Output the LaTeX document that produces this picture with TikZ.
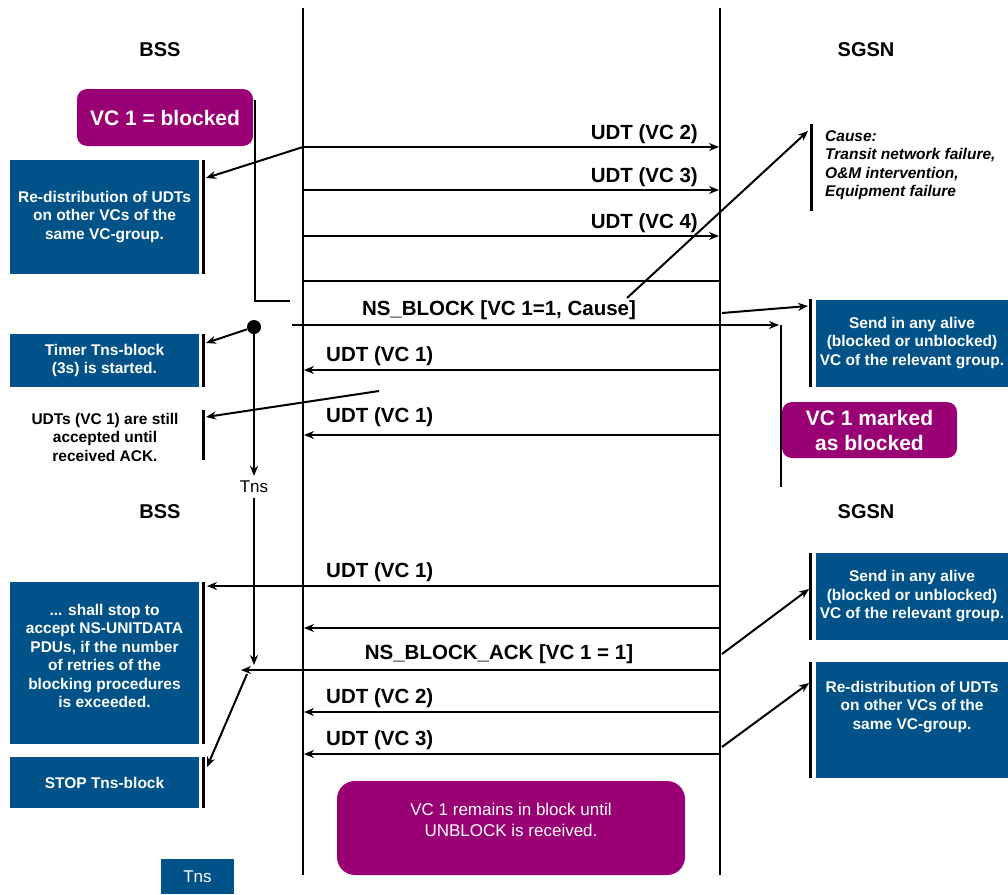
\documentclass[tikz,border=0pt]{standalone}
\usepackage{fontspec}
\setmainfont{Liberation Sans}
\usepackage{tikz}
\usetikzlibrary{arrows.meta, positioning, calc}
\usepackage{xcolor}
\definecolor{nsblue}{RGB}{0,82,136}
\definecolor{nspurple}{RGB}{153,0,115}
\tikzstyle{lifeline} = [line width=2.4pt]
\tikzstyle{plain} = [line width=2pt]
\tikzstyle{bar} = [line width=3pt]
\tikzstyle{arrow} = [line width=2pt,-{Stealth[length=10pt,width=8pt]}]
\tikzstyle{boxtext} = [text=white, align=center, inner sep=0pt, font=\fontsize{15.5}{18.5}\selectfont\bfseries]
\tikzstyle{bluebox} = [rectangle, fill=nsblue, boxtext]
\tikzstyle{purplebox} = [rectangle, rounded corners=10pt, fill=nspurple, text=white, align=center, inner sep=0pt, font=\fontsize{21}{25}\selectfont\bfseries]
\tikzstyle{msglabel} = [inner sep=0pt, font=\fontsize{20.5}{24}\selectfont\bfseries]
\tikzstyle{entity} = [inner sep=0pt, font=\fontsize{20}{24}\selectfont\bfseries]

\begin{document}
\begin{tikzpicture}[x=1pt, y=-1pt]
  \useasboundingbox (0,0) rectangle (1008,894);

  % lifelines
  \coordinate (bssTop) at (303,8);
  \coordinate (bssEnd) at (303,875);
  \coordinate (sgsnTop) at (720,8);
  \coordinate (sgsnEnd) at (720,875);
  \draw[lifeline] (bssTop) -- (bssEnd);
  \draw[lifeline] (sgsnTop) -- (sgsnEnd);

  \node[entity] (bssA) at (160,50) {BSS};
  \node[entity] (sgsnA) at (866,50) {SGSN};
  \node[entity] (bssB) at (160,512) {BSS};
  \node[entity] (sgsnB) at (866,512) {SGSN};

  % boxes on the BSS side
  \node[purplebox, minimum width=176pt, minimum height=57pt] (blocked) at (165,117.5) {VC 1 = blocked};
  \node[bluebox, minimum width=189pt, minimum height=114pt] (redistA) at (104.5,217) {Re-distribution of UDTs\\on other VCs of the\\same VC-group.};
  \node[bluebox, minimum width=189pt, minimum height=53pt] (timer) at (104.5,360.5) {Timer Tns-block\\(3s) is started.};
  \node[inner sep=0pt, align=center, font=\fontsize{15.5}{18.5}\selectfont\bfseries] (stillTxt) at (105,437) {UDTs (VC 1) are still\\accepted until\\received ACK.};
  \node[bluebox, minimum width=189pt, minimum height=162pt] (stopAcc) at (104.5,663) {};
  \node[boxtext] (stopAccTxt) at (104.5,656) {... shall stop to\\accept NS-UNITDATA\\PDUs, if the number\\of retries of the\\blocking procedures\\is exceeded.};
  \node[bluebox, minimum width=189pt, minimum height=51pt] (stopTns) at (104.5,782.5) {STOP Tns-block};
  \node[bluebox, minimum width=73pt, minimum height=35pt, font=\fontsize{17}{20}\selectfont] (tnsBox) at (197.5,876.5) {Tns};

  % boxes on the SGSN side
  \node[inner sep=0pt, anchor=west, align=left, font=\fontsize{15.5}{18.5}\selectfont\bfseries\itshape] (causeTxt) at (825,165) {Cause:\\Transit network failure,\\O\&M intervention,\\Equipment failure};
  \node[bluebox, minimum width=192pt, minimum height=87pt] (sendA) at (912,343) {Send in any alive\\(blocked or unblocked)\\VC of the relevant group.};
  \node[purplebox, minimum width=175pt, minimum height=56pt] (marked) at (869.5,430) {VC 1 marked\\as blocked};
  \node[bluebox, minimum width=192pt, minimum height=87pt] (sendB) at (912,596.5) {Send in any alive\\(blocked or unblocked)\\VC of the relevant group.};
  \node[bluebox, minimum width=192pt, minimum height=116pt] (redistB) at (912,720) {};
  \node[boxtext] (redistBTxt) at (912,707) {Re-distribution of UDTs\\on other VCs of the\\same VC-group.};

  \node[purplebox, rounded corners=18pt, minimum width=348pt, minimum height=94pt] (remains) at (511,828) {};
  \node[text=white, align=center, inner sep=0pt, font=\fontsize{17}{21}\selectfont] (remainsTxt) at (511,820) {VC 1 remains in block until\\UNBLOCK is received.};

  % bars
  \draw[bar] ([xshift=4.5pt]redistA.north east) -- ([xshift=4.5pt]redistA.south east);
  \draw[bar] ([xshift=4.5pt]timer.north east) -- ([xshift=4.5pt]timer.south east);
  \coordinate (stillBarTop) at (203.5,410);
  \coordinate (stillBarBot) at (203.5,460);
  \draw[bar] (stillBarTop) -- (stillBarBot);
  \draw[bar] ([xshift=4.5pt]stopAcc.north east) -- ([xshift=4.5pt]stopAcc.south east);
  \draw[bar] ([xshift=4.5pt]stopTns.north east) -- ([xshift=4.5pt]stopTns.south east);
  \coordinate (causeBarTop) at (811,124);
  \coordinate (causeBarBot) at (811,211);
  \draw[bar] (causeBarTop) -- (causeBarBot);
  \draw[bar] ([xshift=-5pt]sendA.north west) -- ([xshift=-5pt]sendA.south west);
  \draw[bar] ([xshift=-5pt]sendB.north west) -- ([xshift=-5pt]sendB.south west);
  \draw[bar] ([xshift=-5pt]redistB.north west) -- ([xshift=-5pt]redistB.south west);

  % messages BSS -> SGSN
  \coordinate (udt2L) at (303,147);
  \coordinate (udt2R) at (719,147);
  \coordinate (udt3L) at (303,190);
  \coordinate (udt3R) at (719,190);
  \coordinate (udt4L) at (303,236);
  \coordinate (udt4R) at (719,236);
  \coordinate (sepL) at (303,281);
  \coordinate (sepR) at (720,281);
  \draw[arrow] (udt2L) -- (udt2R);
  \draw[arrow] (udt3L) -- (udt3R);
  \draw[arrow] (udt4L) -- (udt4R);
  \draw[plain] (sepL) -- (sepR);
  \node[msglabel, anchor=base east] (udt2Lbl) at (698,139) {UDT (VC 2)};
  \node[msglabel, anchor=base east] (udt3Lbl) at (698,182) {UDT (VC 3)};
  \node[msglabel, anchor=base east] (udt4Lbl) at (698,228) {UDT (VC 4)};

  \coordinate (redistATip) at (206,178);
  \draw[arrow] (udt2L) -- (redistATip);
  \coordinate (blkTop) at (255,100);
  \coordinate (blkCorner) at (255,301);
  \coordinate (blkEnd) at (290,301);
  \draw[plain] (blkTop) -- (blkCorner) -- (blkEnd);

  % NS_BLOCK
  \node[msglabel, anchor=base] (nsBlockLbl) at (499,315) {NS\_BLOCK [VC 1=1, Cause]};
  \coordinate (nsBlockL) at (292,325);
  \coordinate (nsBlockR) at (779,325);
  \coordinate (markTop) at (781,325);
  \coordinate (markEnd) at (781,487);
  \draw[arrow] (nsBlockL) -- (nsBlockR);
  \draw[lifeline] (markTop) -- (markEnd);
  \coordinate (causeFrom) at (627,298);
  \coordinate (causeTip) at (808,131);
  \draw[arrow] (causeFrom) -- (causeTip);
  \coordinate (sendAFrom) at (722,313);
  \coordinate (sendATip) at (808,306);
  \draw[arrow] (sendAFrom) -- (sendATip);

  % timer
  \node[circle, fill=black, inner sep=0pt, minimum size=14pt] (tnsDot) at (254,327) {};
  \coordinate (timerTip) at (206,343);
  \draw[arrow] (tnsDot) -- (timerTip);
  \node[inner sep=5pt, font=\fontsize{17}{20}\selectfont] (tnsLbl) at (254,487) {Tns};
  \coordinate (tnsEnd) at (254,665);
  \draw[arrow] (tnsDot) -- (tnsLbl);
  \draw[arrow] (tnsLbl) -- (tnsEnd);

  % messages SGSN -> BSS
  \coordinate (udt1aR) at (720,370);
  \coordinate (udt1aL) at (304,370);
  \coordinate (udt1bR) at (720,435);
  \coordinate (udt1bL) at (304,435);
  \draw[arrow] (udt1aR) -- (udt1aL);
  \draw[arrow] (udt1bR) -- (udt1bL);
  \node[msglabel, anchor=base west] (udt1aLbl) at (326,361) {UDT (VC 1)};
  \node[msglabel, anchor=base west] (udt1bLbl) at (326,422) {UDT (VC 1)};
  \coordinate (stillFrom) at (379,391);
  \coordinate (stillTip) at (206,417);
  \draw[arrow] (stillFrom) -- (stillTip);

  \coordinate (udt1cR) at (720,586);
  \coordinate (udt1cL) at (207,586);
  \coordinate (blankR) at (720,628);
  \coordinate (blankL) at (304,628);
  \coordinate (ackR) at (720,670);
  \coordinate (ackL) at (241,670);
  \coordinate (udt2bR) at (720,712);
  \coordinate (udt2bL) at (304,712);
  \coordinate (udt3bR) at (720,754);
  \coordinate (udt3bL) at (304,754);
  \draw[arrow] (udt1cR) -- (udt1cL);
  \draw[arrow] (blankR) -- (blankL);
  \draw[arrow] (ackR) -- (ackL);
  \draw[arrow] (udt2bR) -- (udt2bL);
  \draw[arrow] (udt3bR) -- (udt3bL);
  \node[msglabel, anchor=base west] (udt1cLbl) at (326,577) {UDT (VC 1)};
  \node[msglabel, anchor=base] (ackLbl) at (499,659) {NS\_BLOCK\_ACK [VC 1 = 1]};
  \node[msglabel, anchor=base west] (udt2bLbl) at (326,703) {UDT (VC 2)};
  \node[msglabel, anchor=base west] (udt3bLbl) at (326,745) {UDT (VC 3)};

  \coordinate (stopFrom) at (247,674);
  \coordinate (stopTip) at (207,767);
  \draw[arrow] (stopFrom) -- (stopTip);
  \coordinate (sendBFrom) at (722,654);
  \coordinate (sendBTip) at (809,589);
  \draw[arrow] (sendBFrom) -- (sendBTip);
  \coordinate (redistBFrom) at (722,747);
  \coordinate (redistBTip) at (809,683);
  \draw[arrow] (redistBFrom) -- (redistBTip);
\end{tikzpicture}
\end{document}
